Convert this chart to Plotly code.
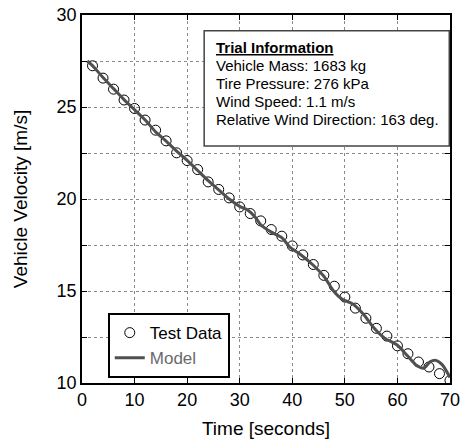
import plotly.graph_objects as go

# Test data (time in s, velocity in m/s)
test_time = [2, 4, 6, 8, 10, 12, 14, 16, 18, 20, 22, 24, 26, 28, 30, 32, 34, 36,
             38, 40, 42, 44, 46, 48, 50, 52, 54, 56, 58, 60, 62, 64, 66, 68, 70]
test_velocity = [27.24, 26.57, 25.97, 25.38, 24.92, 24.29, 23.74, 23.16, 22.51, 22.09,
                 21.60, 20.93, 20.52, 20.06, 19.57, 19.21, 18.81, 18.34, 17.98, 17.45,
                 16.96, 16.44, 15.85, 15.26, 14.67, 14.07, 13.52, 12.97, 12.55, 12.02,
                 11.59, 11.14, 10.87, 10.51, 10.14]

# Model curve
model_time = [1, 2, 4, 6, 8, 10, 12, 14, 16, 18, 20, 22, 24, 26, 28, 30, 31.5, 33, 34,
              36, 38, 39.5, 41.5, 44, 46, 48, 49.5, 51.5, 53.5, 55.5, 57.5, 60, 62,
              63.7, 65, 66.2, 67.3, 68.5, 70]
model_velocity = [27.5, 27.25, 26.6, 26.0, 25.4, 24.85, 24.3, 23.65, 23.15, 22.6, 22.1,
                  21.55, 21.0, 20.5, 20.0, 19.6, 19.4, 19.0, 18.6, 18.2, 17.9, 17.4,
                  17.0, 16.4, 15.8, 14.95, 14.55, 14.3, 13.75, 13.0, 12.45, 12.05, 11.45,
                  10.95, 10.8, 11.15, 11.23, 11.0, 10.3]

x_ticks = [0, 10, 20, 30, 40, 50, 60, 70]
y_ticks = [10, 12.5, 15, 17.5, 20, 22.5, 25, 27.5, 30]
y_ticktext = ["10", "", "15", "", "20", "", "25", "", "30"]

info_lines = ["<u><b>Trial Information</b></u>",
              "Vehicle Mass: 1683 kg",
              "Tire Pressure: 276 kPa",
              "Wind Speed: 1.1 m/s",
              "Relative Wind Direction: 163 deg."]

FONT = "Liberation Sans, Arial, sans-serif"

fig = go.Figure()
fig.add_trace(go.Scatter(
    x=test_time, y=test_velocity, mode="markers", name="Test Data",
    marker=dict(symbol="circle-open", size=10, color="black", line=dict(width=1, color="black")),
))
fig.add_trace(go.Scatter(
    x=model_time, y=model_velocity, mode="lines",
    name='<span style="color:#6a6a6a">Model</span>',
    line=dict(color="#505050", width=3, shape="spline", smoothing=0.8),
))

axis_common = dict(
    showline=True, linecolor="black", linewidth=1.5, mirror="ticks",
    ticks="inside", ticklen=5, tickcolor="black", tickwidth=1,
    showgrid=True, gridcolor="#8a8a8a", griddash="dot", gridwidth=1,
    zeroline=False, automargin=False,
    tickfont=dict(size=18, color="black", family=FONT),
)

fig.update_xaxes(range=[0, 70], tickvals=x_ticks,
                 title=dict(text="Time [seconds]", font=dict(size=19, color="black", family=FONT), standoff=12),
                 **axis_common)
fig.update_yaxes(range=[10, 30], tickvals=y_ticks, ticktext=y_ticktext,
                 title=dict(text="Vehicle Velocity [m/s]", font=dict(size=19, color="black", family=FONT), standoff=24),
                 **axis_common)

fig.add_shape(type="rect", xref="paper", yref="paper",
              x0=0.332, x1=0.998, y0=0.644, y1=0.957,
              line=dict(color="#444444", width=1.5), fillcolor="white", layer="above")

# info text, one annotation per line (reference line pitch ~18 px)
plot_top_px, plot_h_px = 15, 368
first_line_px, line_pitch_px = 47.5, 18.1
for i, line in enumerate(info_lines):
    py = first_line_px + i * line_pitch_px
    fig.add_annotation(xref="paper", yref="paper", x=0.360,
                       y=1 - (py - plot_top_px) / plot_h_px,
                       xanchor="left", yanchor="middle", align="left", showarrow=False,
                       text=line, font=dict(size=15, color="black", family=FONT))

fig.update_layout(
    width=464, height=446,
    margin=dict(l=82, r=14, t=15, b=63, autoexpand=False),
    paper_bgcolor="white", plot_bgcolor="white",
    font=dict(family=FONT, color="black"),
    showlegend=True,
    legend=dict(x=0.07, y=0.19, xanchor="left", yanchor="top",
                bgcolor="white", bordercolor="black", borderwidth=2,
                font=dict(size=17, color="black", family=FONT),
                tracegroupgap=0, itemwidth=30),
)

fig.write_html("out.html")
